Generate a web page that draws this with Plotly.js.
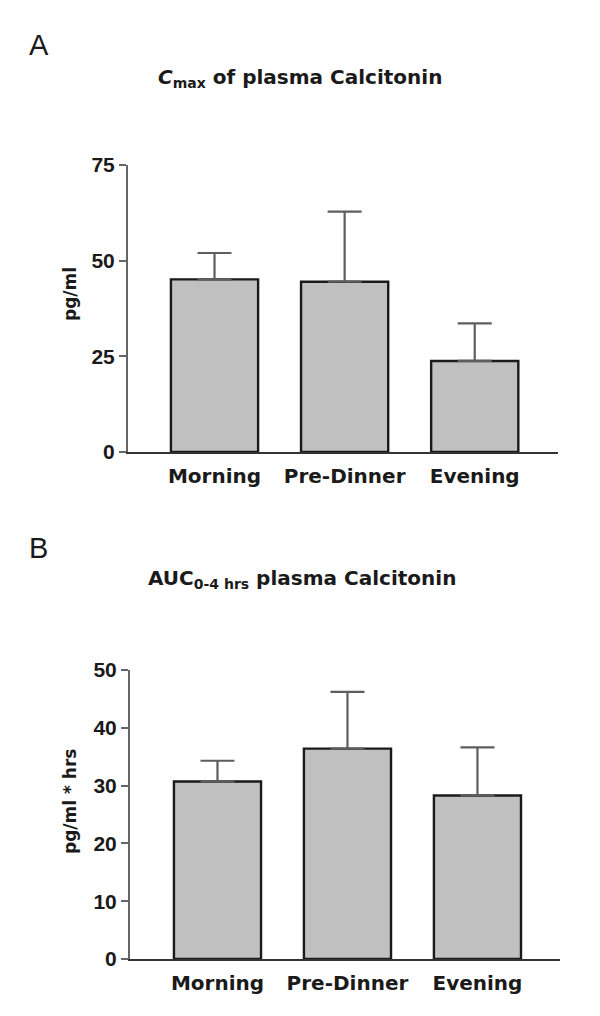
<!DOCTYPE html>
<html><head><meta charset="utf-8">
<script src="https://cdn.plot.ly/plotly-3.0.1.min.js"></script>
<style>html,body{margin:0;padding:0;background:#fff}#chart{width:600px;height:1016px}</style>
</head><body><div id="chart"></div>
<script>
const categories = ['Morning', 'Pre-Dinner', 'Evening'];
const cmaxMean = [45.1, 44.5, 23.8];
const cmaxUpper = [52.0, 62.8, 33.6];
const aucMean = [30.7, 36.4, 28.3];
const aucUpper = [34.3, 46.2, 36.6];
const cmaxTicks = [0, 25, 50, 75];
const aucTicks = [0, 10, 20, 30, 40, 50];

const FONT = 'Liberation Sans, Arial, sans-serif';
const WIDE = 'DejaVu Sans, sans-serif';
const W = 600, H = 1016;
const px = v => v / W;
const py = v => 1 - v / H;

function barTrace(means, uppers, xa, ya) {
  return {
    type: 'bar', x: categories, y: means, xaxis: xa, yaxis: ya, width: 0.67,
    marker: {color: '#c0c0c0', line: {color: '#1a1a1a', width: 2.4}},
    error_y: {type: 'data', symmetric: false,
      array: uppers.map((u, i) => u - means[i]), arrayminus: means.map(() => 0),
      color: '#5e5e5e', thickness: 2.2, width: 17},
    hoverinfo: 'skip', showlegend: false
  };
}

const xCommon = {type: 'category', showline: true, linecolor: '#333', linewidth: 2,
  ticks: 'outside', ticklen: 5, tickcolor: 'rgba(0,0,0,0)', showgrid: false, zeroline: false,
  tickfont: {family: WIDE, size: 20, color: '#1a1a1a', weight: 'bold'}, fixedrange: true};
const yCommon = {showline: true, linecolor: '#666', linewidth: 2, ticks: 'outside', ticklen: 7,
  tickwidth: 2, tickcolor: '#666', showgrid: false, zeroline: false,
  tickfont: {family: FONT, size: 21, color: '#1a1a1a', weight: 'bold'}, fixedrange: true};

const layout = {
  width: W, height: H, margin: {l: 0, r: 0, t: 0, b: 0},
  paper_bgcolor: '#fff', plot_bgcolor: 'rgba(0,0,0,0)', showlegend: false,
  xaxis: Object.assign({}, xCommon, {domain: [px(128), px(558)], range: [-0.665, 2.64], anchor: 'y'}),
  yaxis: Object.assign({}, yCommon, {domain: [py(452), py(165)], range: [0, 75], tickvals: cmaxTicks, anchor: 'x'}),
  xaxis2: Object.assign({}, xCommon, {domain: [px(130), px(560)], range: [-0.673, 2.635], anchor: 'y2'}),
  yaxis2: Object.assign({}, yCommon, {domain: [py(959), py(670)], range: [0, 50], tickvals: aucTicks, anchor: 'x2'}),
  annotations: [
    {text: 'A', x: px(27), y: py(45), xref: 'paper', yref: 'paper', xanchor: 'left', yanchor: 'middle', showarrow: false,
      font: {family: FONT, size: 29, color: '#1a1a1a'}},
    {text: 'B', x: px(27), y: py(548), xref: 'paper', yref: 'paper', xanchor: 'left', yanchor: 'middle', showarrow: false,
      font: {family: FONT, size: 29, color: '#1a1a1a'}},
    {text: '<b><i>C</i><sub>max</sub> of plasma Calcitonin</b>', x: px(300), y: py(78), xref: 'paper', yref: 'paper',
      xanchor: 'center', yanchor: 'middle', showarrow: false, font: {family: WIDE, size: 20, color: '#1a1a1a'}},
    {text: '<b>AUC<sub>0-4 hrs</sub> plasma Calcitonin</b>', x: px(302), y: py(579), xref: 'paper', yref: 'paper',
      xanchor: 'center', yanchor: 'middle', showarrow: false, font: {family: WIDE, size: 20, color: '#1a1a1a'}},
    {text: '<b>pg/ml</b>', x: px(70), y: py(294), xref: 'paper', yref: 'paper', textangle: -90,
      xanchor: 'center', yanchor: 'middle', showarrow: false, font: {family: WIDE, size: 17, color: '#1a1a1a'}},
    {text: '<b>pg/ml * hrs</b>', x: px(70), y: py(802), xref: 'paper', yref: 'paper', textangle: -90,
      xanchor: 'center', yanchor: 'middle', showarrow: false, font: {family: WIDE, size: 17, color: '#1a1a1a'}}
  ]
};

Plotly.newPlot('chart', [
  barTrace(cmaxMean, cmaxUpper, 'x', 'y'),
  barTrace(aucMean, aucUpper, 'x2', 'y2')
], layout, {staticPlot: true, displayModeBar: false});
</script>
</body></html>
